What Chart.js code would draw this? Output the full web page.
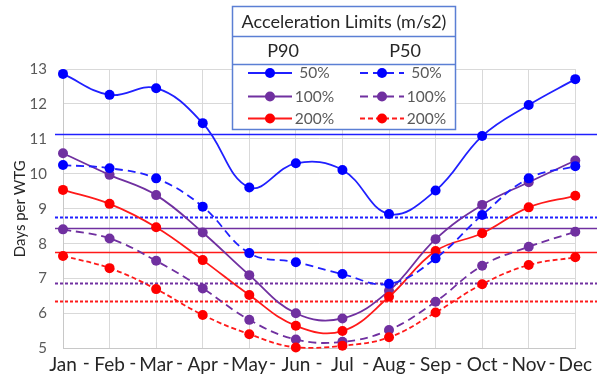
<!DOCTYPE html>
<html>
<head>
<meta charset="utf-8">
<script src="https://cdn.jsdelivr.net/npm/chart.js@4/dist/chart.umd.min.js"></script>
<style>
  html, body { margin: 0; padding: 0; background: #fff; }
  #wrap { width: 597px; height: 377px; position: relative; }
</style>
</head>
<body>
<div id="wrap"><canvas id="chart"></canvas></div>
<script>
// values
const months = ['Jan', 'Feb', 'Mar', 'Apr', 'May', 'Jun', 'Jul', 'Aug', 'Sep', 'Oct', 'Nov', 'Dec'];
const p90_50 = [12.86, 12.26, 12.45, 11.45, 9.61, 10.30, 10.11, 8.85, 9.52, 11.08, 11.97, 12.71];
const p90_100 = [10.59, 9.97, 9.39, 8.32, 7.10, 6.01, 5.86, 6.65, 8.13, 9.11, 9.76, 10.38];
const p90_200 = [9.54, 9.14, 8.47, 7.53, 6.53, 5.65, 5.50, 6.48, 7.79, 8.30, 9.04, 9.37];
const p50_50 = [10.25, 10.16, 9.87, 9.06, 7.73, 7.47, 7.13, 6.85, 7.58, 8.82, 9.87, 10.22];
const p50_100 = [8.41, 8.15, 7.51, 6.72, 5.82, 5.26, 5.19, 5.53, 6.34, 7.37, 7.91, 8.34];
const p50_200 = [7.65, 7.30, 6.70, 5.96, 5.41, 5.03, 5.08, 5.32, 6.03, 6.84, 7.39, 7.61];
// horizontal average lines (50%, 100%, 200%)
const avgP90 = [11.13, 8.44, 7.77];
const avgP50 = [8.76, 6.87, 6.37];
const groups = ['P90', 'P50'];
const limits = ['50%', '100%', '200%'];
const legendTitle = 'Acceleration Limits (m/s2)';
const yTitle = 'Days per WTG';

const colors = ['#0000ff', '#7030a0', '#ff0000'];
const lineColors = ['#2020ff', '#7030a0', '#ff1a1a'];
const p50Dash = [[8, 5], [8, 5], [5, 3]];
const FONT = 'Lato, "Open Sans", sans-serif';

function series(data, g, i) {
    return {
        label: groups[g] + ' ' + limits[i],
        data: data,
        group: g,
        limit: i,
        borderColor: lineColors[i],
        backgroundColor: colors[i],
        pointBackgroundColor: colors[i],
        pointBorderColor: colors[i],
        pointBorderWidth: 0,
        pointRadius: 5,
        borderWidth: 1.8,
        borderDash: g === 1 ? p50Dash[i] : [],
        tension: 0.4,
        clip: false,
        fill: false
    };
}

const datasets = [
    series(p50_200, 1, 2),
    series(p50_100, 1, 1),
    series(p50_50, 1, 0),
    series(p90_200, 0, 2),
    series(p90_100, 0, 1),
    series(p90_50, 0, 0)
];

const extras = {
    id: 'extras',
    beforeDatasetsDraw(chart) {
        const { ctx, chartArea, scales: { y } } = chart;
        const x0 = chartArea.left - 8, x1 = chart.width;
        ctx.save();
        [avgP90, avgP50].forEach((vals, g) => {
            vals.forEach((v, i) => {
                const py = Math.round(y.getPixelForValue(v)) + 0.5;
                ctx.beginPath();
                ctx.strokeStyle = lineColors[i];
                ctx.lineWidth = g === 0 ? 1.6 : 2;
                ctx.setLineDash(g === 0 ? [] : [3, 2]);
                ctx.moveTo(x0, py);
                ctx.lineTo(x1, py);
                ctx.stroke();
            });
        });
        ctx.restore();
    },
    afterDraw(chart) {
        const { ctx, scales: { x } } = chart;
        ctx.save();
        // dashes between month labels
        ctx.font = '19px ' + FONT;
        ctx.fillStyle = '#262626';
        ctx.textAlign = 'center';
        ctx.textBaseline = 'top';
        const ly = x.top + 5;
        for (let i = 0; i < months.length - 1; i++) {
            const mx = (x.getPixelForValue(i) + x.getPixelForValue(i + 1)) / 2;
            ctx.fillText('-', mx, ly);
        }

        // legend table
        const L = { x: 232.5, y: 6.5, w: 223, h: 123 };
        ctx.fillStyle = '#ffffff';
        ctx.fillRect(L.x, L.y, L.w, L.h);
        ctx.strokeStyle = '#5b7fd4';
        ctx.lineWidth = 1.5;
        ctx.strokeRect(L.x, L.y, L.w, L.h);
        [36.5, 64.5].forEach(ry => {
            ctx.beginPath();
            ctx.moveTo(L.x, ry);
            ctx.lineTo(L.x + L.w, ry);
            ctx.stroke();
        });
        ctx.fillStyle = '#262626';
        ctx.textBaseline = 'middle';
        ctx.font = '18px ' + FONT;
        ctx.fillText(legendTitle, L.x + L.w / 2, 22);
        const headX = [283, 405];
        groups.forEach((gname, g) => ctx.fillText(gname, headX[g], 51));

        const rowY = [73, 96.5, 118.5];
        const sampleX = [270, 382];
        const textX = [314.5, 426.5];
        chart.data.datasets.forEach(ds => {
            const cx = sampleX[ds.group], cy = rowY[ds.limit];
            ctx.beginPath();
            ctx.strokeStyle = ds.borderColor;
            ctx.lineWidth = 1.8;
            ctx.setLineDash(ds.borderDash);
            ctx.moveTo(cx - 22, cy);
            ctx.lineTo(cx + 22, cy);
            ctx.stroke();
            ctx.setLineDash([]);
            ctx.beginPath();
            ctx.fillStyle = ds.pointBackgroundColor;
            ctx.arc(cx, cy, 5, 0, Math.PI * 2);
            ctx.fill();
            ctx.fillStyle = '#595959';
            ctx.font = '15.5px ' + FONT;
            ctx.fillText(limits[ds.limit], textX[ds.group], cy);
        });
        ctx.restore();
    }
};

new Chart(document.getElementById('chart'), {
    type: 'line',
    data: { labels: months, datasets: datasets },
    options: {
        responsive: true,
        maintainAspectRatio: false,
        animation: false,
        events: [],
        layout: { padding: { top: 69, right: 16, left: 0, bottom: 0 } },
        plugins: { legend: { display: false }, tooltip: { enabled: false } },
        scales: {
            x: {
                offset: false,
                grid: { color: '#d9d9d9', drawTicks: false },
                border: { color: '#c8c8c8' },
                ticks: { color: '#262626', padding: 5, maxRotation: 0, autoSkip: false, font: { family: FONT, size: 19 } },
                afterFit(s) { s.height = 28.5; }
            },
            y: {
                min: 5,
                max: 13,
                grid: { color: '#d9d9d9', drawTicks: false },
                border: { color: '#c8c8c8' },
                ticks: { stepSize: 1, color: '#595959', padding: 16, font: { family: FONT, size: 15 } },
                title: { display: true, text: yTitle, color: '#262626', padding: { top: 11, bottom: 0 }, font: { family: FONT, size: 15 } },
                afterFit(s) { s.width = 63; }
            }
        }
    },
    plugins: [extras]
});
</script>
</body>
</html>
